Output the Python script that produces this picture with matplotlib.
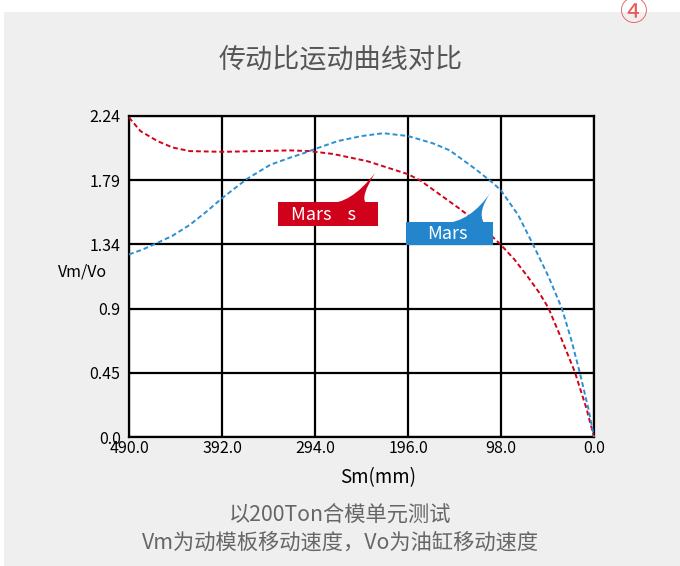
import matplotlib
matplotlib.use("Agg")
import matplotlib.pyplot as plt
import matplotlib.patches as patches
from matplotlib.path import Path

plt.rcParams['font.family'] = ['Noto Sans CJK SC', 'DejaVu Sans']

# values
red_sm = [490, 478, 460, 444, 426, 391, 355, 320, 300, 275, 239, 196, 183, 141, 120, 98, 84, 70, 58, 48, 34, 20, 8, 0]
red_v = [2.23, 2.135, 2.065, 2.02, 1.995, 1.99, 1.995, 2.0, 1.995, 1.975, 1.925, 1.834, 1.79, 1.59, 1.48, 1.34, 1.24, 1.12, 1.01, 0.9, 0.68, 0.45, 0.2, 0.0]

blue_sm = [490, 475, 460, 444, 426, 408, 392, 366, 341, 320, 306, 294, 270, 245, 222, 196, 170, 152, 125, 106, 98, 80, 64, 48, 34, 24, 15, 6, 0]
blue_v = [1.274, 1.31, 1.355, 1.405, 1.48, 1.575, 1.666, 1.80, 1.90, 1.95, 1.98, 2.01, 2.065, 2.10, 2.12, 2.10, 2.05, 2.0, 1.87, 1.77, 1.72, 1.55, 1.34, 1.12, 0.9, 0.68, 0.45, 0.2, 0.0]

x_ticks = [490, 392, 294, 196, 98, 0]
x_labels = ["490.0", "392.0", "294.0", "196.0", "98.0", "0.0"]
y_ticks = [0, 0.448, 0.896, 1.344, 1.792, 2.24]
y_labels = ["0.0", "0.45", "0.9", "1.34", "1.79", "2.24"]

W, H = 680, 566
RED = '#d0021b'
BLUE = '#2b8fd4'


def fx(px):
    return px / W


def fy(py):
    return 1 - py / H


fig = plt.figure(figsize=(W / 100, H / 100), dpi=100)
fig.patch.set_facecolor('white')

# grey panel behind everything
panel = patches.Rectangle((fx(4), 0), 1 - fx(4), fy(12), transform=fig.transFigure,
                          facecolor='#efefef', edgecolor='none', zorder=-10)
fig.patches.append(panel)

ax = fig.add_axes([fx(129), fy(437), fx(594) - fx(129), fy(116) - fy(437)])
ax.set_facecolor('white')

ax.plot(red_sm, red_v, color=RED, lw=1.4, linestyle=(0, (2.5, 1.5)), zorder=3, clip_on=False)
ax.plot(blue_sm, blue_v, color=BLUE, lw=1.4, linestyle=(0, (2.5, 1.5)), zorder=3, clip_on=False)

ax.set_xlim(490, 0)
ax.set_ylim(0, 2.24)
ax.set_xticks(x_ticks)
ax.set_xticklabels(x_labels)
ax.set_yticks(y_ticks)
ax.set_yticklabels(y_labels)
ax.tick_params(length=0, labelsize=11.5, colors='black')
ax.tick_params(axis='x', pad=2)
ax.tick_params(axis='y', pad=6)
ax.grid(True, color='black', lw=1.6)
for s in ax.spines.values():
    s.set_color('black')
    s.set_linewidth(1.6)

ax.set_xlabel("Sm(mm)", fontsize=13.5)
ax.xaxis.set_label_coords(0.535, -0.095)
fig.text(fx(83), fy(272), "Vm/Vo", fontsize=11.5, ha='center', va='center')

# title, notes and the badge
fig.text(fx(341), fy(60), "传动比运动曲线对比", fontsize=19.5, color='#555555', ha='center', va='center')
fig.text(fx(340), fy(515), "以200Ton合模单元测试", fontsize=15.3, color='#666666', ha='center', va='center')
fig.text(fx(341), fy(543), "Vm为动模板移动速度，Vo为油缸移动速度", fontsize=15.3, color='#666666', ha='center', va='center')
fig.text(fx(633), fy(13), "④", fontsize=20, color='#e85a5a', ha='center', va='center')


def callout(box, start, ctrl1, tip, ctrl2, end, color, text, tx):
    x0, y0, x1, y1 = box
    rect = patches.Rectangle((fx(x0), fy(y1)), fx(x1) - fx(x0), fy(y0) - fy(y1),
                             transform=fig.transFigure, facecolor=color, edgecolor='none', zorder=5)
    fig.patches.append(rect)
    verts = [start, ctrl1, tip, ctrl2, end, start]
    verts = [(fx(a), fy(b)) for a, b in verts]
    codes = [Path.MOVETO, Path.CURVE3, Path.CURVE3, Path.CURVE3, Path.CURVE3, Path.CLOSEPOLY]
    tail = patches.PathPatch(Path(verts, codes), transform=fig.transFigure,
                             facecolor=color, edgecolor='none', zorder=5)
    fig.patches.append(tail)
    fig.text(fx(tx), fy((y0 + y1) / 2 + 0.5), text, fontsize=13, color='white',
             ha='left', va='center', zorder=6)


callout((278, 202, 378, 226), (327, 203), (350, 205), (375, 173), (360, 197), (366, 203),
        RED, "Mars    s", 291)
callout((406, 222, 493, 245), (445, 223), (470, 222), (491, 192), (477, 212), (484, 223),
        '#2386cc', "Mars", 427)

fig.savefig("out.png", dpi=100, facecolor=fig.get_facecolor())
